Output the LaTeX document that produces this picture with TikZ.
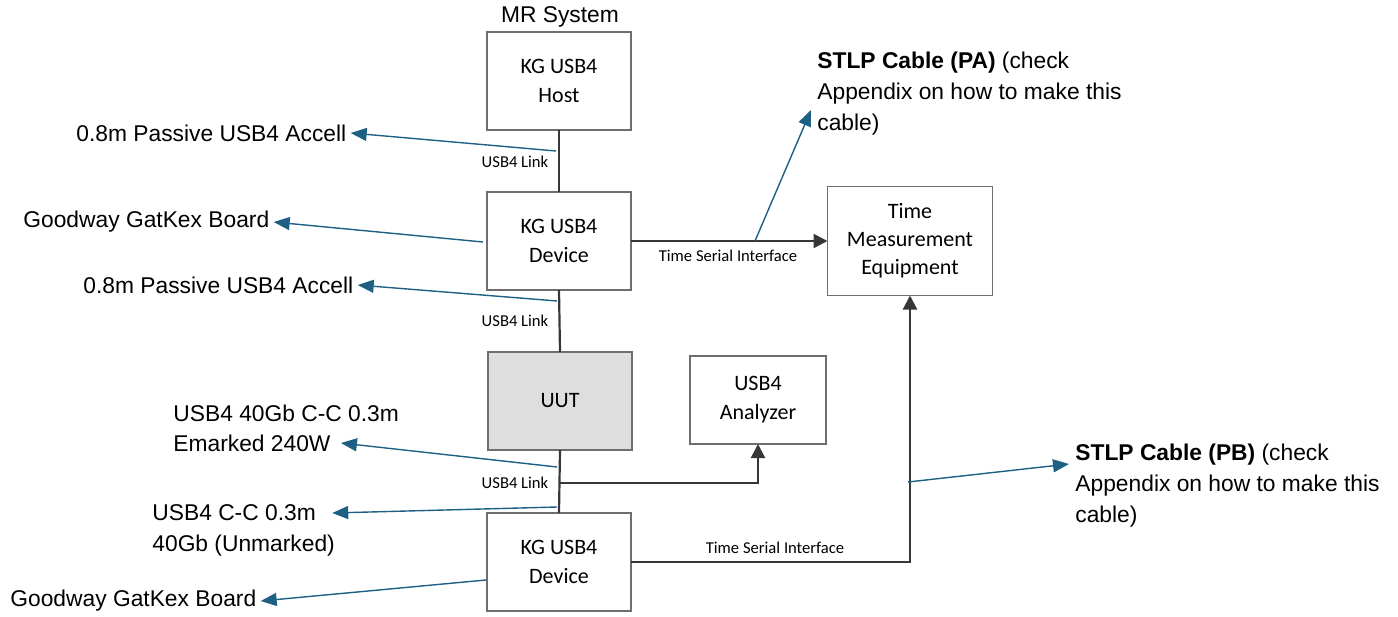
\documentclass[tikz,border=0pt]{standalone}
\usepackage{fontspec}
\setmainfont{Liberation Sans}
\newfontfamily\boxfont{Carlito}
\usetikzlibrary{arrows.meta}

\definecolor{boxgray}{RGB}{110,110,110}
\definecolor{linkgray}{RGB}{55,55,55}
\definecolor{uutfill}{RGB}{222,222,222}
\definecolor{noteblue}{RGB}{30,96,132}

\tikzset{
  unit/.style={draw=boxgray, line width=0.8pt, fill=white, minimum width=72pt, minimum height=49pt,
    align=center, font=\boxfont\fontsize{11}{14.5}\selectfont, inner sep=0pt, outer sep=0pt},
  link/.style={draw=linkgray, line width=1.1pt},
  feed/.style={link, -{Triangle[length=7pt,width=7pt]}},
  tag/.style={font=\boxfont\fontsize{8.3}{10}\selectfont, inner sep=0pt},
  note/.style={font=\fontsize{11.4}{15.5}\selectfont, inner sep=2pt, anchor=west, align=left},
  pointer/.style={draw=noteblue, line width=0.7pt, -{Triangle[length=8pt,width=6.5pt]}}
}

\begin{document}
\begin{tikzpicture}[x=0.5pt,y=-0.5pt]
    \useasboundingbox (0,0) rectangle (1398,616);

    % Draw the boxes
    \node at (560,17) [font=\fontsize{11.4}{14}\selectfont] (mr) {MR System};
    \node[unit] (host) at (559,81) {KG USB4\\Host};
    \node[unit] (dev1) at (559,241) {KG USB4\\Device};
    \node[unit, fill=uutfill] (uut) at (560,401) {UUT};
    \node[unit, minimum width=68pt, minimum height=44pt] (ana) at (758,400) {USB4\\Analyzer};
    \node[unit, minimum width=82.5pt, minimum height=54.5pt, font=\boxfont\fontsize{11}{14}\selectfont] (tme) at (910,241) {Time\\Measurement\\Equipment};
    \node[unit] (dev2) at (559,562) {KG USB4\\Device};

    % Draw the links
    \draw[link] (host.south) -- (dev1.north);
    \draw[link] (dev1.south) -- (uut.north);
    \draw[link] (uut.south) -- (dev2.north);
    \coordinate (split) at (559,483);
    \draw[feed] (split) -| (ana.south);
    \draw[feed] (dev1.east) -- (tme.west);
    \draw[feed] (dev2.east) -| (tme.south);

    % Link labels
    \node[tag] (l1) at (515,162) {USB4 Link};
    \node[tag] (l2) at (515,321) {USB4 Link};
    \node[tag] (l3) at (515,483) {USB4 Link};
    \node[tag] (s1) at (728,256) {Time Serial Interface};
    \node[tag] (s2) at (775,548) {Time Serial Interface};

    % Cable and board notes
    \node[note] (acc1) at (72,133) {0.8m Passive USB4 Accell};
    \node[note] (board1) at (19,222) {Goodway GatKex Board};
    \node[note] (acc2) at (79,285) {0.8m Passive USB4 Accell};
    \node[note] (emk1) at (169,413) {USB4 40Gb C-C 0.3m};
    \node[note] (emk2) at (169,443) {Emarked 240W};
    \node[note] (cc1) at (148,513) {USB4 C-C 0.3m};
    \node[note] (cc2) at (148,546) {40Gb (Unmarked)};
    \node[note] (board2) at (6,601) {Goodway GatKex Board};
    \node[note] (pa) at (813,94) {\textbf{STLP Cable (PA)} (check\\Appendix on how to make this\\cable)};
    \node[note] (pb) at (1071,486) {\textbf{STLP Cable (PB)} (check\\Appendix on how to make this\\cable)};

    % Pointers
    \coordinate (p1) at (556,151);
    \coordinate (p2) at (483,242);
    \coordinate (p3) at (557,301);
    \coordinate (p4) at (557,467);
    \coordinate (p5) at (557,507);
    \coordinate (p6) at (486,580);
    \coordinate (p7) at (755,241);
    \coordinate (p8) at (908,482);
    \draw[pointer] (p1) -- (acc1.east);
    \draw[pointer] (p2) -- (board1.east);
    \draw[pointer] (p3) -- (acc2.east);
    \draw[pointer] (p4) -- ([xshift=3pt]emk2.east);
    \draw[pointer] (p5) -- ([xshift=6pt]cc1.east);
    \draw[pointer] (p6) -- (board2.east);
    \draw[pointer] (p7) -- ([xshift=-1pt,yshift=-8pt]pa.west);
    \draw[pointer] (p8) -- ([xshift=-1pt,yshift=11pt]pb.west);

\end{tikzpicture}
\end{document}
